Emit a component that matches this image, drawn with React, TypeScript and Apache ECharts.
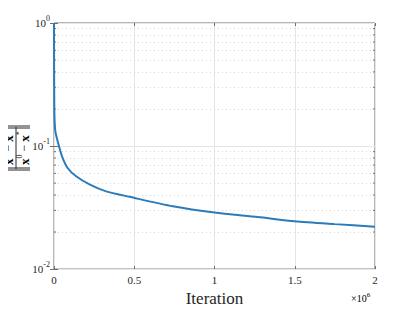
import React, { useEffect, useRef } from "react";
import * as echarts from "echarts";

const iterations = [0, 2000, 8000, 30000, 51000, 86000, 138000, 221000, 325000, 470000, 740000, 1000000, 1270000, 1500000, 1750000, 2000000];
const relError = [1, 0.2, 0.133, 0.101, 0.0818, 0.066, 0.0568, 0.0488, 0.0428, 0.0387, 0.0324, 0.0288, 0.0265, 0.0245, 0.0232, 0.0221];
const minorY = [0.02, 0.03, 0.04, 0.05, 0.06, 0.07, 0.08, 0.09, 0.2, 0.3, 0.4, 0.5, 0.6, 0.7, 0.8, 0.9];
const xTicks = [0, 0.5, 1, 1.5, 2];

const SERIF = "Liberation Serif";
const TXT = "#262626";
const AX = "#6e6e6e";

export default function App() {
  const ref = useRef<HTMLDivElement>(null);
  useEffect(() => {
    const chart = echarts.init(ref.current!, null, { renderer: "svg" });
    const xMax = 2000000;
    const supLabel = (e: string) => `{b|10}{s|${e}}`;
    const richY = {
      b: { fontFamily: SERIF, fontSize: 11, color: TXT },
      s: { fontFamily: SERIF, fontSize: 8, color: TXT, padding: [0, 0, 9, 0] },
    };
    const fracRich = {
      x: { fontFamily: SERIF, fontSize: 13, fontWeight: "bold", color: TXT },
      m: { fontFamily: SERIF, fontSize: 12, color: TXT },
      s: { fontFamily: SERIF, fontSize: 8, color: TXT, padding: [0, 0, 9, 0] },
    };
    chart.setOption({
      animation: false,
      textStyle: { fontFamily: SERIF },
      grid: { left: 54, right: 40, top: 23, bottom: 37, show: true, borderColor: AX, borderWidth: 1, backgroundColor: "transparent" },
      xAxis: [
        {
          type: "value",
          min: 0,
          max: xMax,
          interval: 500000,
          axisLine: { show: false },
          axisTick: { show: true, inside: true, length: 3, lineStyle: { color: AX } },
          splitLine: { show: true, lineStyle: { color: "#e6e6e6", width: 1 } },
          axisLabel: {
            margin: 5,
            fontFamily: SERIF,
            fontSize: 11,
            color: TXT,
            formatter: (v: number) => String(xTicks[Math.round(v / 500000)]),
          },
          name: "Iteration",
          nameLocation: "middle",
          nameGap: 18,
          nameTextStyle: { fontFamily: SERIF, fontSize: 17, color: TXT },
        },
        {
          type: "value",
          position: "top",
          min: 0,
          max: xMax,
          interval: 500000,
          axisLine: { show: false },
          axisTick: { show: true, inside: true, length: 3, lineStyle: { color: AX } },
          splitLine: { show: false },
          axisLabel: { show: false },
        },
      ],
      yAxis: [
        {
          type: "log",
          logBase: 10,
          min: 0.01,
          max: 1,
          axisLine: { show: false },
          axisTick: { show: true, inside: true, length: 4, lineStyle: { color: AX } },
          splitLine: { show: true, lineStyle: { color: "#e6e6e6", width: 1 } },
          axisLabel: {
            margin: 4,
            fontFamily: SERIF,
            formatter: (v: number) => supLabel(String(Math.round(Math.log10(v)))),
            rich: richY,
          },
        },
        {
          type: "log",
          logBase: 10,
          position: "right",
          min: 0.01,
          max: 1,
          axisLine: { show: false },
          axisTick: { show: true, inside: true, length: 4, lineStyle: { color: AX } },
          splitLine: { show: false },
          axisLabel: { show: false },
        },
      ],
      series: [
        {
          type: "line",
          xAxisIndex: 0,
          yAxisIndex: 0,
          data: iterations.map((x, i) => [x, relError[i]]),
          showSymbol: false,
          smooth: 0.25,
          lineStyle: { color: "#2b7bba", width: 2 },
          itemStyle: { color: "#2b7bba" },
          z: 5,
          markLine: {
            silent: true,
            symbol: "none",
            label: { show: false },
            lineStyle: { color: "#d6d6d6", type: [1, 3], width: 1 },
            data: minorY.map((v) => ({ yAxis: v })),
          },
        },
        {
          type: "custom",
          xAxisIndex: 0,
          yAxisIndex: 0,
          clip: false,
          silent: true,
          data: minorY.map((v) => [0, v]),
          renderItem: (params: any, api: any) => {
            const v = api.value(1);
            const l = api.coord([0, v]);
            const r = api.coord([xMax, v]);
            const st = { stroke: AX, lineWidth: 1 };
            return {
              type: "group",
              children: [
                { type: "line", shape: { x1: l[0], y1: l[1], x2: l[0] + 2, y2: l[1] }, style: st },
                { type: "line", shape: { x1: r[0] - 2, y1: r[1], x2: r[0], y2: r[1] }, style: st },
              ],
            };
          },
          z: 6,
        },
      ],
      graphic: [
        {
          type: "text",
          left: 351,
          top: 291,
          style: {
            text: "{a|×10}{s|6}",
            rich: {
              a: { fontFamily: SERIF, fontSize: 10, color: TXT },
              s: { fontFamily: SERIF, fontSize: 7, color: TXT, padding: [0, 0, 8, 0] },
            },
          },
        },
        {
          type: "group",
          x: 16,
          y: 148,
          rotation: Math.PI / 2,
          children: [
            {
              type: "text",
              x: 0,
              y: -8,
              style: {
                text: "{x|x}{s|k}{m| − }{x|x}{s|*}",
                align: "center",
                verticalAlign: "middle",
                rich: fracRich,
              },
            },
            {
              type: "text",
              x: 0,
              y: 8,
              style: {
                text: "{x|x}{s|0}{m| − }{x|x}{s|*}",
                align: "center",
                verticalAlign: "middle",
                rich: fracRich,
              },
            },
            { type: "line", shape: { x1: -21, y1: 0, x2: 21, y2: 0 }, style: { stroke: TXT, lineWidth: 1 } },
            { type: "line", shape: { x1: -22, y1: -14, x2: -22, y2: 14 }, style: { stroke: TXT, lineWidth: 1 } },
            { type: "line", shape: { x1: -20, y1: -14, x2: -20, y2: 14 }, style: { stroke: TXT, lineWidth: 1 } },
            { type: "line", shape: { x1: 20, y1: -14, x2: 20, y2: 14 }, style: { stroke: TXT, lineWidth: 1 } },
            { type: "line", shape: { x1: 22, y1: -14, x2: 22, y2: 14 }, style: { stroke: TXT, lineWidth: 1 } },
          ],
        },
      ],
    });
    return () => chart.dispose();
  }, []);
  return <div ref={ref} style={{ width: 415, height: 312, margin: -8 }} />;
}
